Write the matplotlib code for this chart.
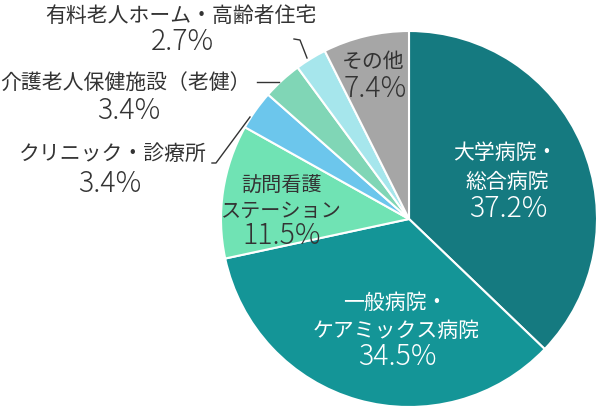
import numpy as np
import matplotlib
matplotlib.use("Agg")
import matplotlib.pyplot as plt

plt.rcParams['font.family'] = ['Noto Sans CJK JP', 'DejaVu Sans']

# data, clockwise from 12 o'clock
categories = ["大学病院・総合病院", "一般病院・ケアミックス病院", "訪問看護ステーション",
              "クリニック・診療所", "介護老人保健施設（老健）", "有料老人ホーム・高齢者住宅", "その他"]
shares = [37.2, 34.5, 11.5, 3.4, 3.4, 2.7, 7.4]
pct_labels = ["37.2%", "34.5%", "11.5%", "3.4%", "3.4%", "2.7%", "7.4%"]
colors = ["#157a80", "#149597", "#70e3b4", "#6cc6ec", "#80d6b6", "#a6e6ec", "#a6a6a6"]

W, H = 600, 411
fig = plt.figure(figsize=(W / 100, H / 100), dpi=100)
ax = fig.add_axes([0, 0, 1, 1])

cx, cy, R = 409, 192, 188
ax.pie(shares, colors=colors, startangle=90, counterclock=False,
       center=(cx, cy), radius=R, normalize=True,
       wedgeprops=dict(edgecolor="white", linewidth=1.5))
ax.set_xlim(0, W)
ax.set_ylim(0, H)
ax.set_aspect("equal")
ax.axis("off")

dark = "#333333"
LAB = 15
PCT = 20.5


def put(x, y, s, size, color, weight="normal"):
    # y given in image pixels (top = 0)
    ax.text(x, H - y, s, fontsize=size, color=color, ha="center", va="center",
            fontweight=weight)


def pct(x, y, s, color):
    put(x, y, s, PCT, color, weight="light")


# inside labels
put(505, 153, "大学病院・", LAB, "white")
put(507, 182, "総合病院", LAB, "white")
pct(508, 209, pct_labels[0], "white")

put(395, 303, "一般病院・", LAB, "white")
put(396, 331, "ケアミックス病院", LAB, "white")
pct(397, 357, pct_labels[1], "white")

put(281, 186, "訪問看護", 14.5, dark)
put(281, 211, "ステーション", 14.5, dark)
pct(282, 236, pct_labels[2], dark)

put(373, 62, "その他", LAB, dark)
pct(375, 89, pct_labels[6], dark)

# outside labels
put(113, 154, categories[3], LAB, dark)
pct(110, 184, pct_labels[3], dark)

put(125, 83, categories[4], LAB, dark)
pct(129, 111, pct_labels[4], dark)

put(181, 16, categories[5], LAB, dark)
pct(182, 42, pct_labels[5], dark)

# leader lines (image pixel coords)
leaders = [
    [(212, 163), (216, 163), (250, 117)],
    [(257, 82), (279, 82)],
    [(294, 39), (300, 40), (307, 58)],
]
for pts in leaders:
    xs = [p[0] for p in pts]
    ys = [H - p[1] for p in pts]
    ax.plot(xs, ys, color=dark, lw=1)

fig.savefig("out.png", dpi=100)
